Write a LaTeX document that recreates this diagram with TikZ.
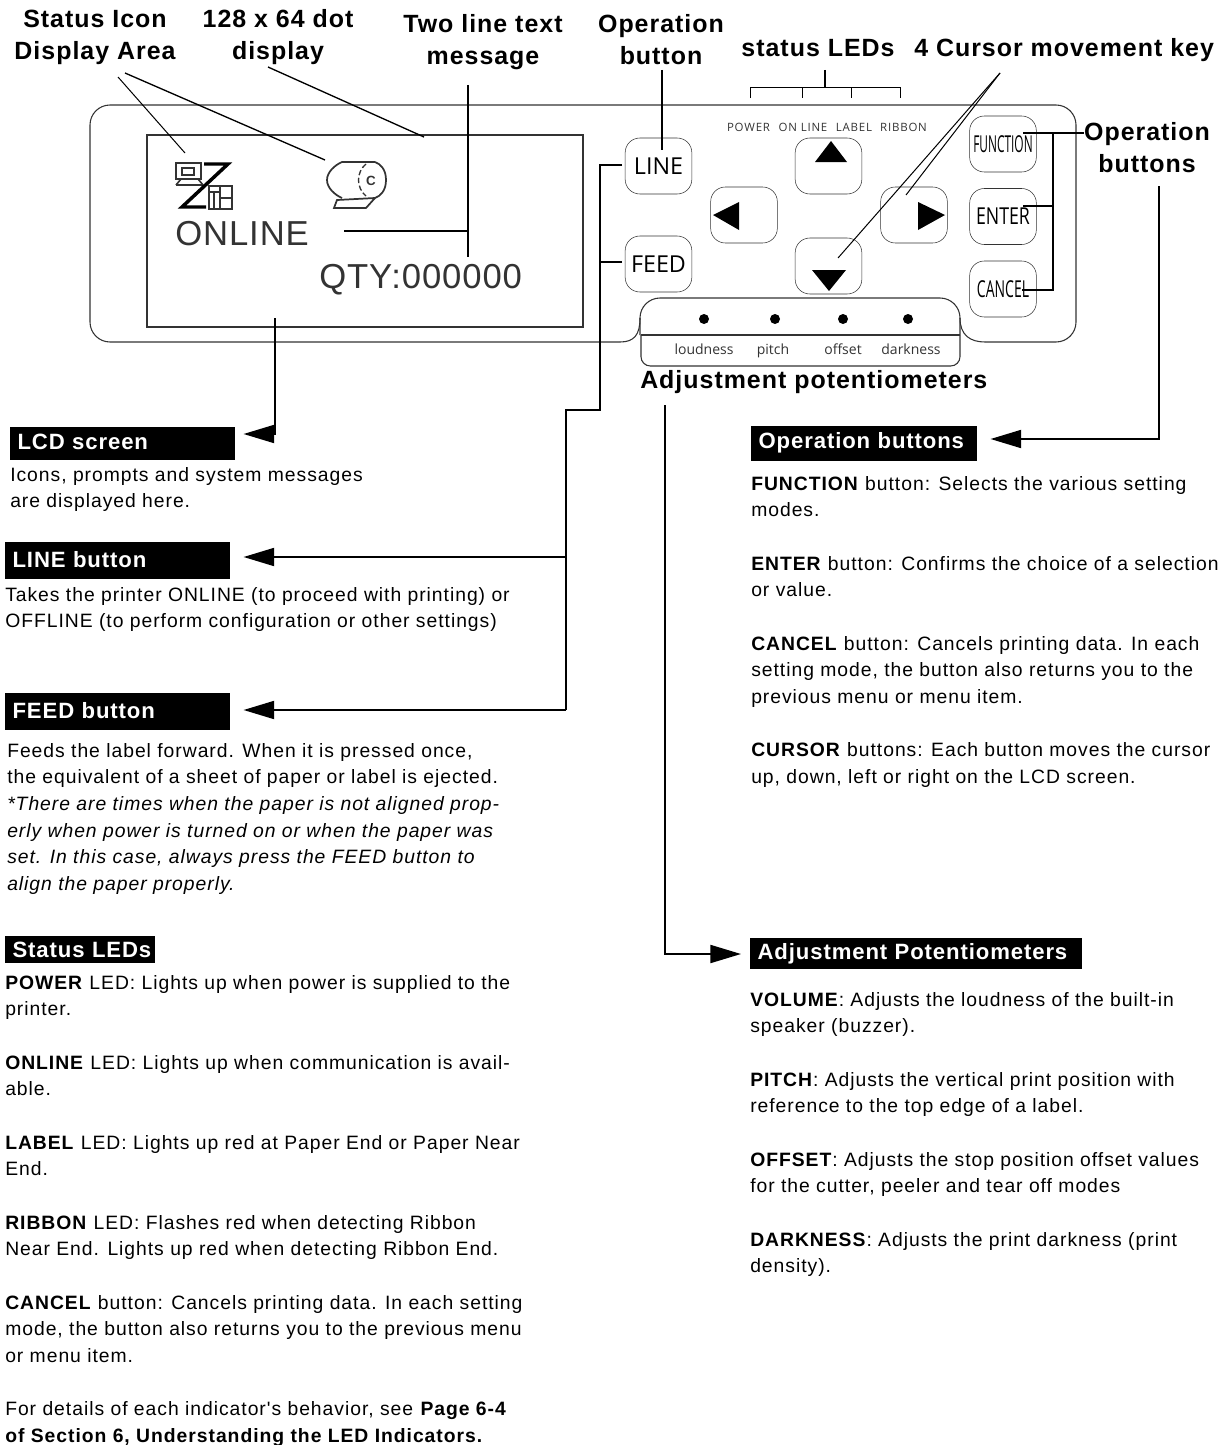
\documentclass[tikz,border=0pt]{standalone}
\usepackage{fontspec}
\usepackage{graphicx}
\usetikzlibrary{arrows.meta}
\usetikzlibrary{calc}
\setmainfont{Liberation Sans}
\newfontfamily\titlefont[LetterSpace=4]{Liberation Sans}
\newfontfamily\bodyfont[LetterSpace=5]{Liberation Sans}
\newfontfamily\lcdfont[LetterSpace=2.6]{Liberation Sans}
\newfontfamily\keyfont{Open Sans}
\newfontfamily\ledfont[LetterSpace=7]{Open Sans}
\definecolor{panelgray}{gray}{0.2}
\tikzset{
	calltitle/.style={font=\titlefont\bfseries\fontsize{18.7}{24}\selectfont,align=center,inner sep=0pt},
	bodytext/.style={anchor=north west,inner sep=0pt,align=left,font=\bodyfont\fontsize{14.5}{20}\selectfont},
	headbar/.style={anchor=west,fill=black,text=white,inner xsep=5.5pt,inner ysep=0pt,font=\titlefont\bfseries\fontsize{16.6}{20}\selectfont},
	keycap/.style={draw=panelgray,rounded corners=11pt,minimum width=50pt,minimum height=42pt,inner sep=0pt,font=\keyfont\fontsize{17.5}{20}\selectfont,text=black},
	legend/.style={anchor=base,inner sep=0pt,font=\keyfont\fontsize{10.5}{12}\selectfont,text=panelgray},
	ledlabel/.style={anchor=base,inner sep=0pt,font=\ledfont\fontsize{8.6}{10}\selectfont,text=panelgray},
	lcdtext/.style={anchor=base west,inner sep=0pt,font=\lcdfont\fontsize{26}{30}\selectfont,text=panelgray},
	leader/.style={line width=1.5pt},
	thinleader/.style={line width=0.75pt},
	pointer/.style={line width=1.5pt,-{Triangle[length=23pt,width=13.5pt]}},
	outline/.style={draw=panelgray,line width=0.8pt},
}
\begin{document}
\begin{tikzpicture}[x=0.75pt,y=0.75pt,yscale=-1,xscale=1]
	\useasboundingbox (0,0) rectangle (1225,1445);

	%Shape: Panel
	\draw [outline,rounded corners=15pt] (620,342) -- (90,342) -- (90,105) -- (1076,105) -- (1076,342) -- (985,342) ;
	\draw [outline] (620,342) .. controls (634,342) and (640,335) .. (640,318) ;
	\draw [outline] (985,342) .. controls (970,342) and (960,335) .. (960,318) ;
	%Shape: Adjustment strip
	\draw [outline,rounded corners=15pt] (640,335) -- (640,298) -- (960,298) -- (960,335) ;
	\draw [outline,rounded corners=7pt] (641,335) -- (641,366) -- (960,366) -- (960,335) ;
	\draw [outline] (641,335) -- (960,335) ;
	%Shape: LCD
	\draw [outline] (147,135) rectangle (583,327) ;

	% Text Node
	\node [lcdtext] (onlineText) at (175,245) {ONLINE};
	\node [lcdtext] (qtyText) at (319,288) {QTY:000000};

	%Shape: Status icon
	\draw [line width=1.2pt,panelgray] (176,163) rectangle (201,179) (182,168) rectangle (194,175) (176,185) -- (181,179) (198,179) -- (203,185) -- (176,185) ;
	\draw [line width=2.6pt,black] (204,164) -- (228,164) -- (182,207) -- (206,207) ;
	\draw [line width=1.2pt,panelgray] (209,186) rectangle (232,209) (220,186) -- (220,209) (220,198) -- (232,198) (209,192) -- (220,192) (214,192) -- (214,209) ;
	%Shape: Paper roll icon
	\draw [line width=1.3pt,panelgray] (375,162) -- (342,162) .. controls (335,165) and (327,172) .. (327,180) .. controls (327,188) and (335,195) .. (342,198) ;
	\draw [line width=1.3pt,panelgray] (386,180) .. controls (386,170) and (381,164) .. (375,162) (386,180) .. controls (386,190) and (381,196) .. (375,198) ;
	\draw [line width=1pt,panelgray,dash pattern={on 4pt off 2pt}] (366,164) .. controls (356,172) and (356,188) .. (366,196) ;
	\draw [line width=1.3pt,panelgray] (337,200) -- (375,198) -- (366,208) -- (334,208) -- cycle ;
	\node [inner sep=0pt,font=\bfseries\fontsize{10}{12}\selectfont,text=panelgray] (rollMark) at (371,181) {C};

	%Shape: Keys
	\node [keycap] (lineKey) at (658.5,166) {LINE};
	\node [keycap] (feedKey) at (658.5,264) {FEED};
	\node [keycap] (leftKey) at (744,215) {};
	\node [keycap] (upKey) at (828.5,166) {};
	\node [keycap] (rightKey) at (914,215) {};
	\node [keycap] (downKey) at (828.5,266) {};
	\node [keycap] (functionKey) at (1003,144) {\scalebox{0.51}[1]{FUNCTION}};
	\node [keycap] (enterKey) at (1003,216.5) {\scalebox{0.76}[1]{ENTER}};
	\node [keycap] (cancelKey) at (1003,289) {\scalebox{0.6}[1]{CANCEL}};
	\fill [black] (815,162) -- (847,162) -- (831,141) -- cycle ;
	\fill [black] (713,215) -- (739,202) -- (739,230) -- cycle ;
	\fill [black] (918,202) -- (918,230) -- (945,215) -- cycle ;
	\fill [black] (812,270) -- (846,270) -- (829,291) -- cycle ;

	%Shape: Potentiometers
	\foreach \px in {704,775,843,908} {
		\fill [black] (\px,319) circle (5) ;
	}
	\node [legend] (loudnessText) at (704,354) {loudness};
	\node [legend] (pitchText) at (773,354) {pitch};
	\node [legend] (offsetText) at (843,354) {offset};
	\node [legend] (darknessText) at (911,354) {darkness};
	\node [ledlabel] (powerText) at (748.5,132) {POWER};
	\node [ledlabel] (onlineLed) at (803,132) {ON LINE};
	\node [ledlabel] (labelLed) at (854,132) {LABEL};
	\node [ledlabel] (ribbonLed) at (903.5,132) {RIBBON};

	% Text Node
	\node [calltitle] (iconTitle) at (95,37) {Status Icon\\Display Area};
	\node [calltitle] (dotTitle) at (278,37) {128 x 64 dot\\display};
	\node [calltitle] (twoTitle) at (483,42) {Two line text\\message};
	\node [calltitle] (opTitle) at (661,40) {Operation\\button};
	\node [calltitle,anchor=base] (ledTitle) at (818,57) {status LEDs};
	\node [calltitle,anchor=base west] (cursorTitle) at (914,57) {4 Cursor movement key};
	\node [calltitle] (sideTitle) at (1147,148) {Operation\\buttons};
	\node [calltitle,anchor=base west] (potTitle) at (640,388) {Adjustment potentiometers};

	% Heading bars
	\node [headbar,text width=157.75pt,minimum height=24.75pt] (lcdHead) at (10,443.5) {\raisebox{2pt}{LCD screen}};
	\node [headbar,text width=157.75pt,minimum height=27.75pt] (lineHead) at (5,560) {LINE button};
	\node [headbar,text width=157.75pt,minimum height=27.75pt] (feedHead) at (5,711) {FEED button};
	\node [headbar,text width=101.5pt,minimum height=20.25pt] (ledHead) at (5,949.5) {\makebox[101.5pt][l]{Status LEDs}};
	\node [headbar,text width=158.5pt,minimum height=26.25pt] (opHead) at (751,443) {\raisebox{1pt}{Operation buttons}};
	\node [headbar,text width=238pt,minimum height=23.25pt] (potHead) at (750,953.5) {\raisebox{-1.5pt}{Adjustment Potentiometers}};

	% Text Node
	\node [bodytext] (lcdBody) at (10,467) {Icons, prompts and system messages\\are displayed here.};
	\node [bodytext] (lineBody) at (5,587) {Takes the printer ONLINE (to proceed with printing) or\\OFFLINE (to perform configuration or other settings)};
	\node [bodytext] (feedBody) at (7,743) {Feeds the label forward. When it is pressed once,\\the equivalent of a sheet of paper or label is ejected.\\\itshape *There are times when the paper is not aligned prop-\\\itshape erly when power is turned on or when the paper was\\\itshape set. In this case, always press the FEED button to\\\itshape align the paper properly.};
	\node [bodytext] (ledBody) at (5,975) {\textbf{POWER} LED: Lights up when power is supplied to the\\printer.\\[20pt]\textbf{ONLINE} LED: Lights up when communication is avail-\\able.\\[20pt]\textbf{LABEL} LED: Lights up red at Paper End or Paper Near\\End.\\[20pt]\textbf{RIBBON} LED: Flashes red when detecting Ribbon\\Near End. Lights up red when detecting Ribbon End.\\[20pt]\textbf{CANCEL} button: Cancels printing data. In each setting\\mode, the button also returns you to the previous menu\\or menu item.\\[20pt]For details of each indicator's behavior, see \textbf{Page 6-4}\\\textbf{of Section 6, Understanding the LED Indicators.}};
	\node [bodytext] (opBody) at (751,476) {\textbf{FUNCTION} button: Selects the various setting\\modes.\\[20pt]\textbf{ENTER} button: Confirms the choice of a selection\\or value.\\[20pt]\textbf{CANCEL} button: Cancels printing data. In each\\setting mode, the button also returns you to the\\previous menu or menu item.\\[20pt]\textbf{CURSOR} buttons: Each button moves the cursor\\up, down, left or right on the LCD screen.};
	\node [bodytext] (potBody) at (750,992) {\textbf{VOLUME}: Adjusts the loudness of the built-in\\speaker (buzzer).\\[20pt]\textbf{PITCH}: Adjusts the vertical print position with\\reference to the top edge of a label.\\[20pt]\textbf{OFFSET}: Adjusts the stop position offset values\\for the cutter, peeler and tear off modes\\[20pt]\textbf{DARKNESS}:  Adjusts the print darkness (print\\density).};

	% Free ends inside the panel
	\coordinate (iconEndA) at (185,153);
	\coordinate (iconEndB) at (325,160);
	\coordinate (dotEnd) at (424,137);
	\coordinate (twoEnd) at (468,257);
	\coordinate (twoJoin) at (468,231);
	\coordinate (onlineEnd) at (344,231);
	\coordinate (lcdEnd) at (275,318);
	\coordinate (cursorStart) at (1000,73);
	\coordinate (rightEnd) at (906,195);
	\coordinate (downEnd) at (838,258);
	\coordinate (functionEnd) at (1023,133);
	\coordinate (enterEnd) at (1023,206);
	\coordinate (cancelEnd) at (1022,290);
	\coordinate (sideBus) at (1053,133);
	\coordinate (lineBus) at (600,165);
	\coordinate (feedBus) at (600,262);
	\coordinate (lowerBus) at (566,410);

	%Straight Lines
	\draw [thinleader] (118,77) -- (iconEndA) ;
	\draw [leader,line width=1pt] (125,73) -- (iconEndB) ;
	\draw [leader,line width=1pt] (268,67) -- (dotEnd) ;
	\draw [leader] (468,85) -- (twoEnd) ;
	\draw [leader] (onlineEnd) -- (twoJoin) ;
	\draw [leader] (662,70) -- (662,150) ;
	\draw [leader] (825,70) -- (825,88) ;
	\draw [thinleader] (750,98) -- (750,88) -- (900,88) -- (900,98) ;
	\draw [thinleader] (802,88) -- (802,98) ;
	\draw [thinleader] (851,88) -- (851,98) ;
	\draw [thinleader] (cursorStart) -- (rightEnd) ;
	\draw [thinleader] (cursorStart) -- (downEnd) ;
	\draw [leader] (functionEnd) -- (sideTitle.west |- functionEnd) ;
	\draw [leader] (sideBus) -- (sideBus |- cancelEnd) -- (cancelEnd) ;
	\draw [leader] (enterEnd) -- (sideBus |- enterEnd) ;
	\draw [leader] (622,165) -- (lineBus) -- (lowerBus -| lineBus) -- (lowerBus) -- (566,710) ;
	\draw [leader] (622,262) -- (feedBus) ;

	%Arrows
	\draw [pointer] (lcdEnd) |- ($(lcdHead.east)+(8,-9.5)$) ;
	\draw [pointer] (566,557) -- ($(lineHead.east)+(13,-3)$) ;
	\draw [pointer] (566,710) -- ($(feedHead.east)+(13,-1)$) ;
	\draw [pointer] (1159,186) |- ($(opHead.east)+(13,-4)$) ;
	\draw [pointer] (665,405) |- ($(potHead.west)+(-9,0.5)$) ;
\end{tikzpicture}
\end{document}
